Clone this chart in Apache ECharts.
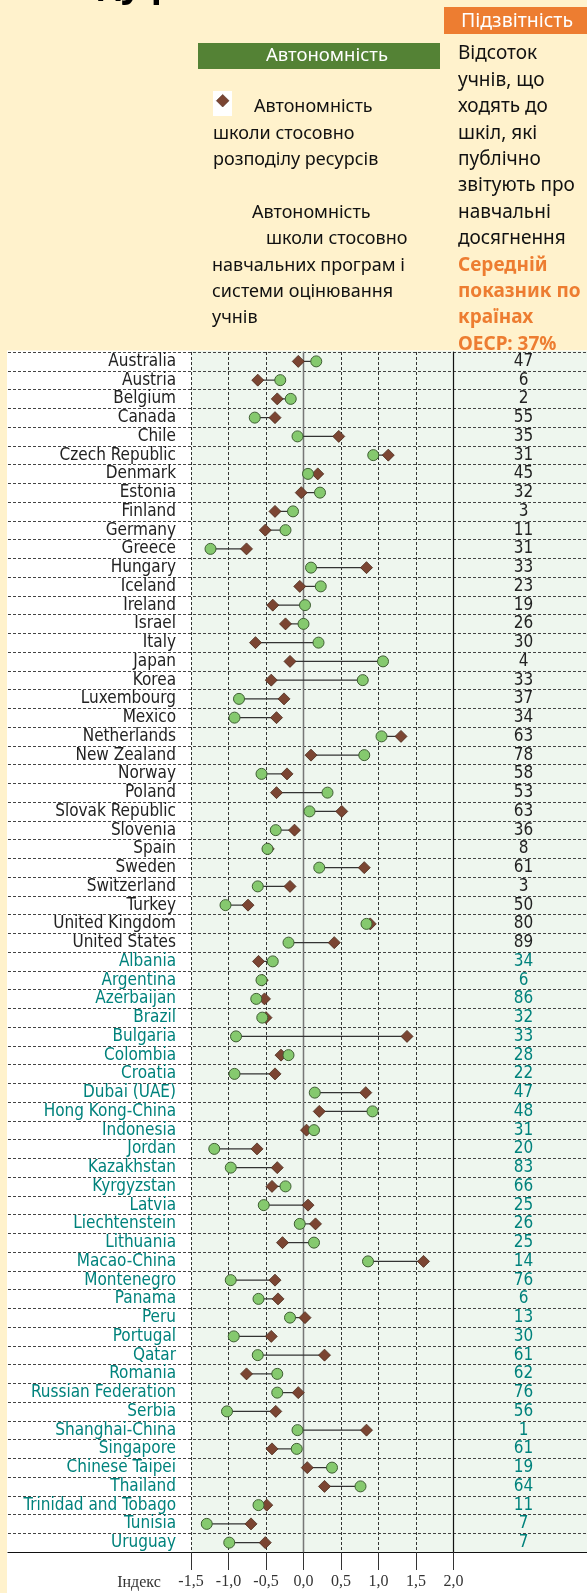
<!DOCTYPE html>
<html>
<head>
<meta charset="utf-8">
<script src="https://cdn.jsdelivr.net/npm/echarts@6/dist/echarts.min.js"></script>
<style>
  html, body { margin: 0; padding: 0; background: #FFF2CC; }
  #chart { width: 587px; height: 1593px; }
</style>
</head>
<body>
<div id="chart"></div>
<script>
// країни: перші 32 - ОЕСР, далі партнери
var countries = ['Australia', 'Austria', 'Belgium', 'Canada', 'Chile', 'Czech Republic', 'Denmark', 'Estonia',
  'Finland', 'Germany', 'Greece', 'Hungary', 'Iceland', 'Ireland', 'Israel', 'Italy', 'Japan', 'Korea',
  'Luxembourg', 'Mexico', 'Netherlands', 'New Zealand', 'Norway', 'Poland', 'Slovak Republic', 'Slovenia',
  'Spain', 'Sweden', 'Switzerland', 'Turkey', 'United Kingdom', 'United States',
  'Albania', 'Argentina', 'Azerbaijan', 'Brazil', 'Bulgaria', 'Colombia', 'Croatia', 'Dubai (UAE)',
  'Hong Kong-China', 'Indonesia', 'Jordan', 'Kazakhstan', 'Kyrgyzstan', 'Latvia', 'Liechtenstein',
  'Lithuania', 'Macao-China', 'Montenegro', 'Panama', 'Peru', 'Portugal', 'Qatar', 'Romania',
  'Russian Federation', 'Serbia', 'Shanghai-China', 'Singapore', 'Chinese Taipei', 'Thailand',
  'Trinidad and Tobago', 'Tunisia', 'Uruguay']
var oecdCount = 32

// автономність щодо розподілу ресурсів (ромб)
var resourceAuto = [-0.07, -0.61, -0.35, -0.38, 0.47, 1.13, 0.19, -0.03,
  -0.38, -0.51, -0.76, 0.84, -0.05, -0.41, -0.24, -0.64, -0.18, -0.43,
  -0.26, -0.36, 1.30, 0.10, -0.22, -0.36, 0.51, -0.12,
  -0.47, 0.81, -0.18, -0.74, 0.89, 0.41,
  -0.60, -0.55, -0.52, -0.50, 1.38, -0.30, -0.38, 0.83,
  0.21, 0.04, -0.62, -0.35, -0.42, 0.06, 0.16,
  -0.28, 1.60, -0.38, -0.34, 0.02, -0.43, 0.28, -0.76,
  -0.07, -0.37, 0.84, -0.42, 0.05, 0.28,
  -0.49, -0.70, -0.51]

// автономність щодо програм і оцінювання (коло)
var curriculumAuto = [0.17, -0.31, -0.17, -0.65, -0.08, 0.93, 0.06, 0.22,
  -0.14, -0.24, -1.24, 0.10, 0.23, 0.02, 0.00, 0.20, 1.06, 0.79,
  -0.86, -0.92, 1.04, 0.81, -0.56, 0.32, 0.08, -0.37,
  -0.48, 0.21, -0.61, -1.04, 0.84, -0.20,
  -0.41, -0.56, -0.63, -0.55, -0.90, -0.20, -0.92, 0.15,
  0.92, 0.14, -1.19, -0.97, -0.24, -0.53, -0.05,
  0.14, 0.86, -0.97, -0.60, -0.18, -0.93, -0.61, -0.35,
  -0.35, -1.02, -0.08, -0.09, 0.38, 0.76,
  -0.60, -1.29, -0.99]

// % учнів у школах, що публічно звітують
var accountability = [47, 6, 2, 55, 35, 31, 45, 32, 3, 11, 31, 33, 23, 19, 26, 30, 4, 33, 37, 34,
  63, 78, 58, 53, 63, 36, 8, 61, 3, 50, 80, 89,
  34, 6, 86, 32, 33, 28, 22, 47, 48, 31, 20, 83, 66, 25, 26, 25, 14, 76, 6, 13, 30, 61, 62,
  76, 56, 1, 61, 19, 64, 11, 7, 7]

var xTicks = [-1.5, 2.0, 0.5]   // min, max, крок

var labelFont = 'DejaVu Sans Condensed'
var textFont = 'Noto Sans'
var teal = '#00827C'

function rowColor(value, index) {
  return index < oecdCount ? '#222' : teal
}

// текстові рядки заголовка
function lines(arr, x, y0, step, size, color, weight) {
  return arr.map(function (t, i) {
    return {
      type: 'text', z: 5,
      style: { text: t, x: x, y: y0 + i * step, fill: color, font: (weight || 'normal') + ' ' + size + 'px "' + textFont + '"', textVerticalAlign: 'middle' }
    }
  })
}

var header = [
  { type: 'rect', z: -2, shape: { x: 7, y: 350.5, width: 580, height: 1243 }, style: { fill: '#ffffff' } },
  { type: 'rect', z: -1, shape: { x: 191, y: 351, width: 396, height: 1201 }, style: { fill: '#EEF6EE' } },
  { type: 'text', z: 5, style: { text: 'ду р', x: 98, y: -14, font: 'bold 36px "Noto Sans"', fill: '#000', textVerticalAlign: 'middle' } },
  { type: 'rect', z: 4, shape: { x: 444, y: 7, width: 143, height: 27 }, style: { fill: '#ED7D31' } },
  { type: 'text', z: 5, style: { text: 'Підзвітність', x: 517, y: 21, fill: '#fff', font: '19.5px "' + textFont + '"', textAlign: 'center', textVerticalAlign: 'middle' } },
  { type: 'rect', z: 4, shape: { x: 198, y: 43, width: 242, height: 26 }, style: { fill: '#548235' } },
  { type: 'text', z: 5, style: { text: 'Автономність', x: 327, y: 56, fill: '#fff', font: '18.5px "' + textFont + '"', textAlign: 'center', textVerticalAlign: 'middle' } },
  { type: 'rect', z: 4, shape: { x: 213, y: 91, width: 19, height: 25 }, style: { fill: '#fff' } },
  { type: 'polygon', z: 5, shape: { points: [[222.7, 94.5], [229, 100.7], [222.7, 107], [216.4, 100.7]] }, style: { fill: '#7B4532', stroke: '#4a2a1c', lineWidth: 0.6 } }
]
header = header
  .concat(lines(['Автономність'], 254, 107, 26.4, 18, '#111'))
  .concat(lines(['школи стосовно', 'розподілу ресурсів'], 213, 133.4, 26.4, 18, '#111'))
  .concat(lines(['Автономність'], 252, 212.5, 26.4, 18, '#111'))
  .concat(lines(['школи стосовно'], 266, 239, 26.4, 18, '#111'))
  .concat(lines(['навчальних програм і', 'системи оцінювання', 'учнів'], 212, 265.4, 26.4, 18, '#111'))
  .concat(lines(['Відсоток', 'учнів, що', 'ходять до', 'шкіл, які', 'публічно', 'звітують про', 'навчальні', 'досягнення'],
    458, 54, 26.4, 19, '#111'))
  .concat(lines(['Середній', 'показник по', 'країнах', 'ОЕСР: 37%'], 458, 265.2, 26.4, 19, '#ED7D31', 'bold'))
  .concat([{ type: 'text', z: 5, style: { text: 'Індекс', x: 139, y: 1582.5, fill: '#333', font: '16px "Liberation Serif"', textAlign: 'center', textVerticalAlign: 'middle' } }])

var chart = echarts.init(document.getElementById('chart'))

var option = {
  backgroundColor: '#FFF2CC',
  animation: false,
  graphic: header,
  grid: [
    { left: 8, right: 0, top: 352, height: 1200 },
    { left: 191, right: 133.5, top: 352, height: 1200 }
  ],
  xAxis: [
    {
      gridIndex: 0, type: 'value', min: 0, max: 1,
      axisLine: { show: true, lineStyle: { color: '#111', width: 1.2 } },
      axisTick: { show: false }, axisLabel: { show: false }, splitLine: { show: false }
    },
    {
      gridIndex: 1, type: 'value', min: xTicks[0], max: xTicks[1], interval: xTicks[2],
      axisLine: { show: false },
      axisTick: { show: true, length: 18, lineStyle: { color: '#333' } },
      axisLabel: {
        margin: 22, fontFamily: 'Liberation Serif', fontSize: 16, color: '#333',
        formatter: function (v) { return v.toFixed(1).replace('.', ',') }
      },
      splitLine: { show: true, lineStyle: { color: '#333', type: [3, 2], width: 1 } }
    }
  ],
  yAxis: [
    {
      gridIndex: 0, type: 'category', data: countries, inverse: true,
      axisLine: { show: false }, axisTick: { show: false }, axisLabel: { show: false },
      splitLine: { show: true, interval: 0, lineStyle: { color: '#444', type: [3, 2], width: 1 } }
    },
    {
      gridIndex: 1, type: 'category', data: countries, inverse: true,
      axisLine: { show: true, lineStyle: { color: '#555', width: 1.2 } },
      axisTick: { show: false },
      axisLabel: { interval: 0, margin: 15, padding: [3, 0, 0, 0], fontFamily: labelFont, fontSize: 17, color: rowColor },
      splitLine: { show: false }
    },
    {
      gridIndex: 1, type: 'category', data: accountability.map(String), inverse: true, position: 'right',
      axisLine: { show: true, lineStyle: { color: '#111', width: 1.2 } },
      axisTick: { show: false },
      axisLabel: { interval: 0, margin: 70, align: 'center', padding: [3, 0, 0, 0], fontFamily: labelFont, fontSize: 17, color: rowColor },
      splitLine: { show: false }
    }
  ],
  series: [
    {
      // лінія нуля
      type: 'custom', xAxisIndex: 1, yAxisIndex: 1, z: 2, silent: true,
      data: [[0, countries[0]]],
      renderItem: function (params, api) {
        var cs = params.coordSys
        var p = api.coord([0, 0])
        return { type: 'line', shape: { x1: p[0], y1: cs.y, x2: p[0], y2: cs.y + cs.height }, style: { stroke: '#777', lineWidth: 1.3 } }
      }
    },
    {
      type: 'custom', xAxisIndex: 1, yAxisIndex: 1, z: 3, silent: true,
      data: countries.map(function (c, i) { return [resourceAuto[i], curriculumAuto[i], c] }),
      encode: { x: [0, 1], y: 2 },
      renderItem: function (params, api) {
        var a = api.coord([api.value(0), api.value(2)])
        var b = api.coord([api.value(1), api.value(2)])
        return { type: 'line', shape: { x1: a[0], y1: a[1], x2: b[0], y2: b[1] }, style: { stroke: '#333', lineWidth: 1.2 } }
      }
    },
    {
      name: 'resources', type: 'scatter', xAxisIndex: 1, yAxisIndex: 1, z: 4,
      symbol: 'diamond', symbolSize: 12,
      itemStyle: { color: '#7B4532', borderColor: '#4a2a1c', borderWidth: 0.8, opacity: 1 },
      data: countries.map(function (c, i) { return [resourceAuto[i], c] })
    },
    {
      name: 'curriculum', type: 'scatter', xAxisIndex: 1, yAxisIndex: 1, z: 5,
      symbol: 'circle', symbolSize: 11,
      itemStyle: { color: '#85C96E', borderColor: '#3f5f33', borderWidth: 1, opacity: 1 },
      data: countries.map(function (c, i) { return [curriculumAuto[i], c] })
    }
  ]
}

chart.setOption(option)
</script>
</body>
</html>
